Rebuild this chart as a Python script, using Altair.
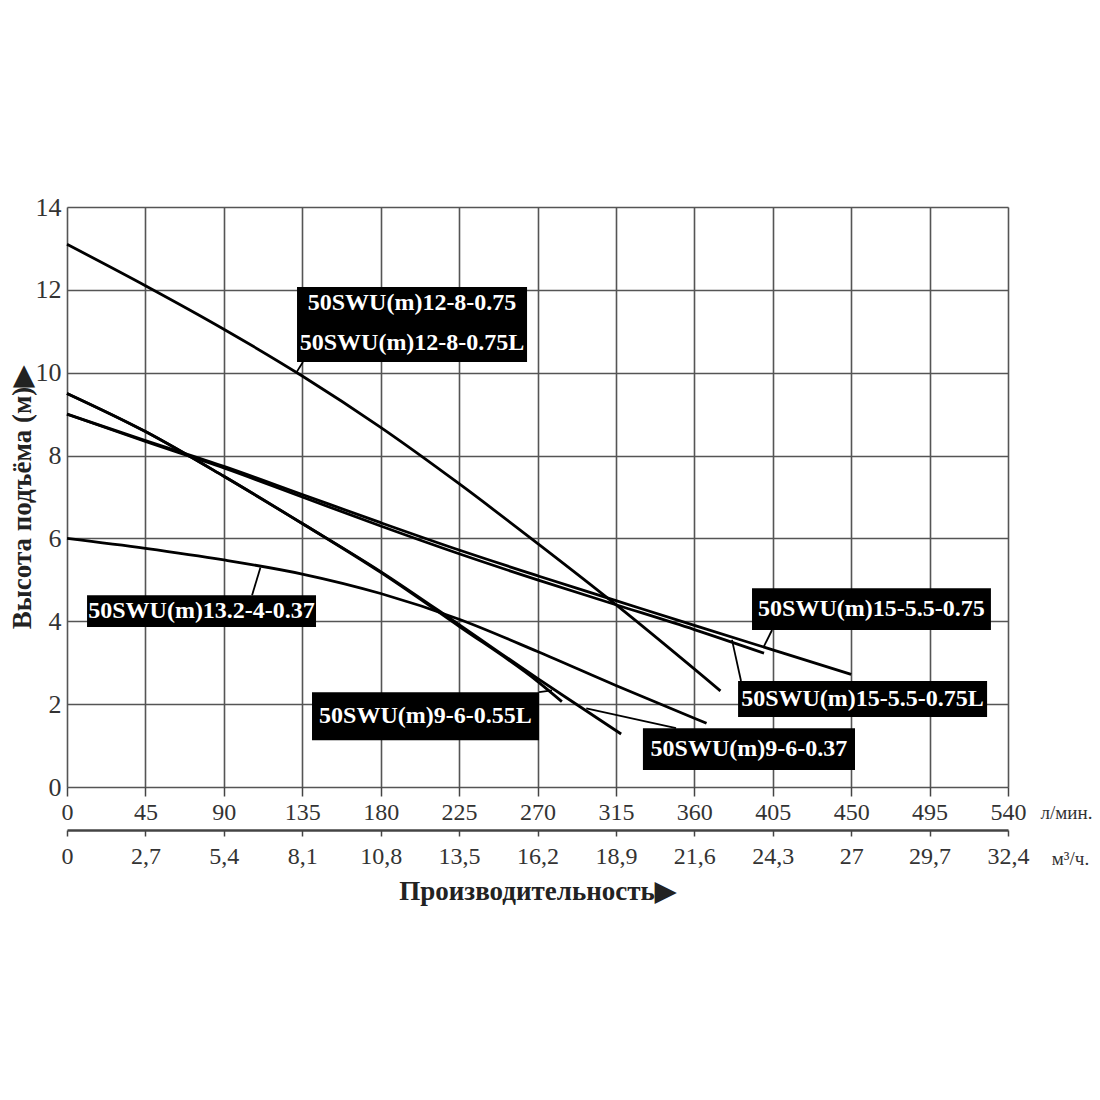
import pandas as pd
import altair as alt

# Кривые насосов: подача (л/мин) и напор (м)
q_12_8 = [0, 45, 90, 135, 180, 225, 270, 315, 375]
h_12_8 = [13.1, 12.1, 11.05, 9.92, 8.68, 7.32, 5.88, 4.4, 2.32]

q_15_075 = [0, 45, 90, 135, 180, 225, 270, 315, 360, 405, 450]
h_15_075 = [9.0, 8.36, 7.74, 7.06, 6.38, 5.72, 5.1, 4.5, 3.9, 3.31, 2.72]

q_15_075L = [0, 45, 90, 135, 180, 225, 270, 315, 360, 400]
h_15_075L = [9.0, 8.34, 7.7, 7.0, 6.3, 5.63, 5.0, 4.4, 3.8, 3.23]

q_13_4 = [0, 45, 90, 135, 180, 225, 270, 315, 360, 367]
h_13_4 = [6.0, 5.76, 5.48, 5.14, 4.67, 4.05, 3.27, 2.45, 1.66, 1.54]

q_9_055L = [0, 45, 90, 135, 180, 225, 270, 284]
h_9_055L = [9.5, 8.58, 7.5, 6.36, 5.18, 3.88, 2.55, 2.06]

q_9_037 = [0, 45, 90, 135, 180, 225, 270, 294, 318]
h_9_037 = [9.5, 8.58, 7.5, 6.36, 5.2, 3.92, 2.62, 1.95, 1.28]

curves = {
    "12-8": (q_12_8, h_12_8),
    "15-0.75": (q_15_075, h_15_075),
    "15-0.75L": (q_15_075L, h_15_075L),
    "13.2-4": (q_13_4, h_13_4),
    "9-0.55L": (q_9_055L, h_9_055L),
    "9-0.37": (q_9_037, h_9_037),
}

rows = []
for name, (qs, hs) in curves.items():
    for q, h in zip(qs, hs):
        rows.append({"curve": name, "q": q, "h": h})
df = pd.DataFrame(rows)

# Подписи (чёрные плашки), в единицах графика
box_x1 = [132.0, 11.5, 393.1, 385.1, 140.6, 330.5]
box_x2 = [264.0, 142.9, 530.2, 528.0, 270.9, 452.2]
box_y1 = [10.26, 3.86, 3.79, 1.69, 1.13, 0.41]
box_y2 = [12.07, 4.63, 4.80, 2.56, 2.29, 1.42]
boxes = pd.DataFrame({"q": box_x1, "q2": box_x2, "h": box_y1, "h2": box_y2})

label_text = ["50SWU(m)12-8-0.75", "50SWU(m)12-8-0.75L", "50SWU(m)13.2-4-0.37",
              "50SWU(m)15-5.5-0.75", "50SWU(m)15-5.5-0.75L", "50SWU(m)9-6-0.55L",
              "50SWU(m)9-6-0.37"]
label_x = [198.0, 198.0, 77.2, 461.6, 456.5, 205.7, 391.3]
label_y = [11.68, 10.72, 4.25, 4.30, 2.12, 1.71, 0.92]
labels = pd.DataFrame({"t": label_text, "q": label_x, "h": label_y})

lead_x1 = [135.4, 106.2, 404.6, 386.8, 270.9, 349.5]
lead_y1 = [10.26, 4.63, 3.79, 2.56, 2.29, 1.42]
lead_x2 = [131.4, 111.0, 400.0, 381.6, 278.3, 298.0]
lead_y2 = [9.99, 5.30, 3.40, 3.55, 2.33, 1.90]
leaders = pd.DataFrame({"q": lead_x1, "h": lead_y1, "q2": lead_x2, "h2": lead_y2})

x_ticks = list(range(0, 541, 45))
y_ticks = list(range(0, 15, 2))

SERIF = "Liberation Serif"
xscale = alt.Scale(domain=[0, 540], nice=False, zero=False)
yscale = alt.Scale(domain=[0, 14], nice=False)

lines = alt.Chart(df).mark_line(color="black", strokeWidth=2.8, interpolate="monotone").encode(
    x=alt.X("q:Q", scale=xscale,
            axis=alt.Axis(values=x_ticks, grid=True, gridColor="#555", gridWidth=1.6, gridOpacity=1,
                          domain=False, tickColor="#444", tickSize=9, tickWidth=1.5,
                          labelFont=SERIF, labelFontSize=24, labelColor="#333", labelPadding=4,
                          labelFlush=False, title="л/мин.", titleFont=SERIF, titleFontSize=19,
                          titleFontWeight="normal", titleColor="#333", titleX=999, titleY=25,
                          titleBaseline="middle", titleAlign="center")),
    y=alt.Y("h:Q", scale=yscale,
            axis=alt.Axis(values=y_ticks, grid=True, gridColor="#555", gridWidth=1.6, gridOpacity=1,
                          domain=False, ticks=False, labelFont=SERIF, labelFontSize=26,
                          labelColor="#333", labelPadding=6, labelFlush=False,
                          title="Высота подъёма (м)▶", titleFont=SERIF, titleFontSize=27,
                          titleFontWeight="bold", titleColor="#222", titleX=-45,
                          titleBaseline="middle")),
    detail="curve:N",
)

# вторая шкала: м³/ч (1 л/мин = 0,06 м³/ч)
m3axis = alt.Chart(pd.DataFrame({"q": x_ticks})).mark_point(opacity=0).encode(
    x=alt.X("q:Q", scale=xscale,
            axis=alt.Axis(values=x_ticks, orient="bottom", offset=43, grid=False,
                          domain=True, domainColor="#444", domainWidth=2.5,
                          tickColor="#444", tickSize=6, tickWidth=1.5,
                          labelExpr="replace(toString(round(datum.value * 0.6) / 10), '.', ',')",
                          labelFont=SERIF, labelFontSize=24, labelColor="#333", labelPadding=8,
                          labelFlush=False, title="м³/ч.", titleFont=SERIF, titleFontSize=19,
                          titleFontWeight="normal", titleColor="#333", titleX=1003, titleY=28,
                          titleBaseline="middle", titleAlign="center")),
)

rects = alt.Chart(boxes).mark_rect(color="black").encode(
    x=alt.X("q:Q", scale=xscale, axis=None), x2="q2:Q",
    y=alt.Y("h:Q", scale=yscale), y2="h2:Q",
)

rules = alt.Chart(leaders).mark_rule(color="black", strokeWidth=1.8).encode(
    x=alt.X("q:Q", scale=xscale, axis=None), x2="q2:Q",
    y=alt.Y("h:Q", scale=yscale), y2="h2:Q",
)

texts = alt.Chart(labels).mark_text(color="white", font=SERIF, fontSize=24, fontWeight="bold",
                                    align="center", baseline="middle").encode(
    x=alt.X("q:Q", scale=xscale, axis=None),
    y=alt.Y("h:Q", scale=yscale),
    text="t:N",
)

chart = alt.layer(lines, m3axis, rules, rects, texts).resolve_axis(x="independent").properties(
    width=941,
    height=580,
    autosize=alt.AutoSizeParams(type="none"),
    padding={"left": 59, "top": 199, "right": 84, "bottom": 305},
    title=alt.TitleParams("Производительность▶", orient="bottom", anchor="middle",
                          font=SERIF, fontSize=27, fontWeight="bold", color="#222", offset=11),
).configure_view(stroke="#222", strokeWidth=2).configure(background="white")

chart.save("out.html", embed_options={"renderer": "svg", "actions": False})
